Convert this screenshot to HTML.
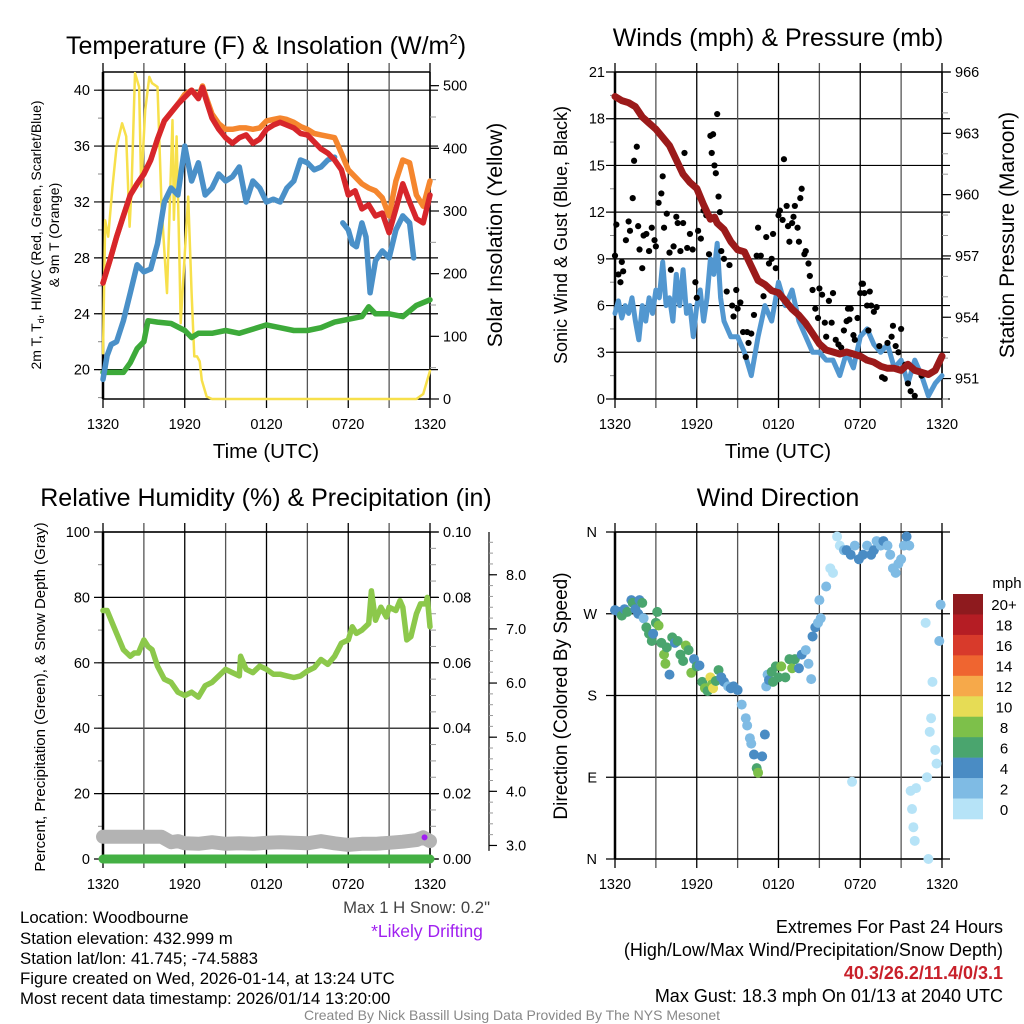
<!DOCTYPE html>
<html><head><meta charset="utf-8">
<style>
html,body{margin:0;padding:0;background:#fff;}
svg{display:block;font-family:"Liberation Sans",sans-serif;}
</style></head>
<body>
<svg id="fig" width="1024" height="1024" viewBox="0 0 1024 1024" xmlns="http://www.w3.org/2000/svg">
<rect width="1024" height="1024" fill="#fff"/>
<g font-size="25" text-anchor="middle" fill="#000">
<text x="266" y="54">Temperature (F) &amp; Insolation (W/m<tspan font-size="15" dy="-10">2</tspan><tspan dy="10">)</tspan></text>
<text x="778" y="46">Winds (mph) &amp; Pressure (mb)</text>
<text x="266" y="506">Relative Humidity (%) &amp; Precipitation (in)</text>
<text x="778" y="506">Wind Direction</text>
</g>
<g font-size="16.8" fill="#000">
<text x="20" y="923">Location: Woodbourne</text>
<text x="20" y="944">Station elevation: 432.999 m</text>
<text x="20" y="964">Station lat/lon: 41.745; -74.5883</text>
<text x="20" y="984">Figure created on Wed, 2026-01-14, at 13:24 UTC</text>
<text x="20" y="1004">Most recent data timestamp: 2026/01/14 13:20:00</text>
<text x="490" y="913" text-anchor="end" fill="#444" font-size="16.7">Max 1 H Snow: 0.2"</text>
<text x="427" y="937" text-anchor="middle" fill="#a020f0" font-size="17.5">*Likely Drifting</text>
<text x="1003" y="933" text-anchor="end" font-size="18">Extremes For Past 24 Hours</text>
<text x="1003" y="956" text-anchor="end" font-size="18">(High/Low/Max Wind/Precipitation/Snow Depth)</text>
<text x="1003" y="979" text-anchor="end" font-size="18" font-weight="bold" fill="#c8202a">40.3/26.2/11.4/0/3.1</text>
<text x="1003" y="1002" text-anchor="end" font-size="18">Max Gust: 18.3 mph On 01/13 at 2040 UTC</text>
<text x="512" y="1020" text-anchor="middle" font-size="14" fill="#888">Created By Nick Bassill Using Data Provided By The NYS Mesonet</text>
</g>
</svg>
<script>
// ---------- DATA ----------
const xTickLabels = ["1320","1920","0120","0720","1320"];
// Temperature panel (hours since 1320 UTC)
const tempTimes = [0,0.5,1,1.5,2,2.5,3,3.5,4,4.5,5,5.5,6,6.5,7,7.3,7.6,8,8.5,9,9.5,10,10.5,11,11.5,12,12.5,13,13.5,14,14.5,15,15.5,16,16.5,17,17.5,18,18.5,19,19.5,20,20.5,21,21.5,22,22.5,23,23.5,24];
const tempRed = [26.2,27.8,29.5,31,32.5,33.3,34,35,36.5,37.8,38.4,39,39.5,40,39.4,40.2,39.2,38,37.2,36.6,36.2,36.6,36.8,36.2,36.5,37.2,37.5,37.7,37.5,37.3,36.9,36.8,36.3,35.8,35.5,35,34.3,32.5,32.8,31.5,31.8,31,31.2,29.8,31.5,33.3,32,30.8,30.5,32.5];
const tempOrange = [26.2,27.8,29.5,31,32.5,33.3,34,35,36.5,37.8,38.4,39,39.7,40,39.5,40.3,39.4,38.3,37.6,37.2,37.2,37.3,37.3,37.2,37.3,37.8,37.9,38,37.9,37.7,37.4,37.2,36.9,36.8,36.7,36.6,35.5,34.3,33.8,33.3,33,32.8,32.3,31,33.5,35,34.8,32.5,31.7,33.5];
const blueTimes = [0,0.3,0.6,1,1.5,2,2.5,3,3.5,4,4.5,5,5.5,6,6.5,7,7.5,8,8.5,9,9.5,10,10.5,11,11.5,12,12.5,13,13.5,14,14.5,15,15.5,16,16.5,17];
const tempBlue = [19.3,21,21.8,22,23.5,25.5,27.5,27,27.2,29,32,33,32.5,36,33.5,34.8,32.5,33,34,33.5,33.8,34.5,32,33.5,33,32,32.2,32,33,33.5,35,34.8,34.3,34.5,35,35.2];
const blueTimes2 = [17.6,18,18.3,18.6,19,19.3,19.6,20,20.5,21,21.5,22,22.5,22.8];
const tempBlue2 = [30.5,30,29,28.8,30.5,29.5,25.5,27.8,28.5,28,30,31,30.5,28];
const greenTimes = [0,0.5,1,1.5,2,2.5,3,3.3,4,5,6,6.5,7,8,9,10,11,12,13,14,15,16,17,18,19,19.5,20,21,22,23,24];
const tempGreen = [19.8,19.8,19.8,19.8,20.5,21.5,22,23.5,23.4,23.3,22.8,22.3,22.6,22.6,22.8,22.6,22.9,23.2,23,22.8,22.8,23,23.4,23.6,23.8,24.5,24,24,23.8,24.6,25];
const solarTimes = [0,0.16,0.38,0.7,1.0,1.4,1.7,1.95,2.1,2.35,2.65,2.8,3.1,3.4,3.6,4.0,4.3,4.7,5.1,5.2,5.4,5.6,5.7,6.0,6.25,6.5,6.7,6.9,7.1,7.25,7.6,8.0,8.5,8.9,22.5,23.0,23.5,24];
const solarValues = [73,285,259,339,403,440,419,275,339,520,498,339,461,514,504,498,307,169,445,286,419,232,121,232,323,169,68,68,60,30,4,0,0,0,0,0,8,45];
// Winds panel
const windTimes = [0,0.25,0.5,0.75,1,1.25,1.5,1.75,2,2.25,2.5,2.75,3,3.25,3.5,3.75,4,4.25,4.5,4.75,5,5.25,5.5,5.75,6,6.25,6.5,6.75,7,7.25,7.5,7.75,8,8.5,9,9.5,10,10.5,11,11.5,12,12.5,13,13.5,14,14.5,15,15.5,16,16.5,17,17.5,18,18.5,19,19.5,20,20.5,21,21.5,22,22.5,23,23.5,24];
const windSpeed = [5.5,6.3,5.2,6,5.5,6.5,5,3.8,6,5,6.5,5.5,7,6.5,8.8,6,6.5,5,8,6,8.3,5.5,6,4,6,7,5,6.5,9,8,10,6.5,5,4,4,3,1.5,4,6,5,7.5,6,7,5,4,3,3,2.5,2.5,1.5,3,2,4,4.5,3.5,3,3.5,2,2.5,1,2.5,1.5,0.2,1,1.5];
const gustTimes = [0,0.1,0.25,0.4,0.5,0.6,0.8,1,1.1,1.3,1.4,1.6,1.7,1.8,2,2.1,2.3,2.5,2.7,2.9,3,3.2,3.4,3.5,3.6,3.8,4,4.1,4.3,4.5,4.6,4.8,5,5.1,5.3,5.5,5.7,5.9,6,6.1,6.3,6.5,6.7,6.9,7,7.1,7.2,7.3,7.4,7.5,7.6,7.7,7.8,8,8.2,8.4,8.6,8.7,8.9,9,9.2,9.4,9.6,9.7,9.8,10,10.2,10.4,10.5,10.7,10.9,11.1,11.3,11.5,11.6,11.8,12,12.1,12.3,12.4,12.6,12.7,12.8,13,13.1,13.2,13.4,13.5,13.6,13.7,13.9,14,14.2,14.3,14.5,14.7,14.9,15,15.2,15.4,15.5,15.7,15.9,16,16.2,16.4,16.6,16.8,17,17.1,17.2,17.3,17.5,17.6,17.8,18,18.1,18.2,18.3,18.5,18.6,18.7,18.8,19,19.2,19.4,19.6,19.8,20,20.3,20.4,20.6,20.8,21,21.3,21.5,21.7,22,22.5];
const gustSpeed = [9.2,11.2,8,7.5,8.8,8.2,10.2,11.4,10.8,12.9,15.3,16.2,11.1,9.6,8.4,10.5,10.6,9.5,11,10.2,9.8,12.6,13.2,14.3,11,11.9,9.4,8.3,9.8,11.7,11.3,9.5,11.3,15.8,9.7,10.6,9.6,7.5,6.5,10.8,10.3,12.1,11.8,9.3,16.9,15.8,17,15,14.5,18.3,13,12,9.5,9,6.9,8.6,6,5.3,7,5.8,6.2,4.3,2.7,4.3,3.6,4.2,5.4,9.2,11,9.2,6.6,10.4,8.7,9,10.6,8.4,11.8,12.1,11.5,15.4,12.4,11.1,10.1,11.3,11.7,12.4,11,10.1,12.9,13.5,9.3,9.5,8.7,7.9,7,5.8,5.2,7.1,6.7,4.9,4,6.3,4.9,6.8,3.8,3.5,3.3,4.4,5,5.8,5.1,5.8,4.1,3.8,5.2,6.8,7.4,7.4,6.8,6,4.4,6.9,6,5.6,5.9,3.4,1.4,1.3,3.6,4,4.7,3.4,3,4.5,2.2,1,0.5,0.2,1.5];
const presTimes = [0,0.5,1,1.5,2,2.5,3,3.5,4,4.5,5,5.5,6,6.5,7,7.3,7.5,8,8.5,9,9.5,10,10.5,11,11.5,12,12.5,13,13.5,14,14.5,15,15.5,16,16.5,17,17.5,18,18.5,19,19.5,20,20.5,21,21.5,22,22.5,23,23.5,24];
const pressure = [964.8,964.6,964.5,964.3,963.8,963.5,963.2,962.8,962.4,961.7,961,960.6,960.3,959.5,958.8,958.9,958.6,958.3,957.7,957.3,957.2,956.5,955.8,955.6,955.3,955.2,954.8,954.4,954.1,953.7,953.2,952.7,952.4,952.3,952.2,952.3,952.2,952.1,951.9,951.8,951.6,951.5,951.5,951.4,951.7,951.4,951.3,951.2,951.4,952.1];
// Humidity panel
const rhTimes = [0,0.3,0.7,1,1.5,2,2.3,2.6,3,3.3,3.6,4,4.5,5,5.5,6,6.5,7,7.5,8,8.5,9,9.5,10,10.1,10.5,11,11.5,12,12.5,13,13.5,14,14.5,15,15.5,16,16.5,17,17.5,18,18.3,18.6,19,19.5,19.7,20,20.4,20.8,21,21.5,21.8,22,22.3,22.6,23,23.3,23.7,23.8,24];
const rhValues = [76,76,72,69,64,62,63,63,67,65,64,59,55,54,51,50,51,49.5,53,54,56,58,57,56,62,58,57,59,58,56.5,56.5,56,55.5,56,57.5,58.5,61,59.5,62,66,67,71,69,70,72,82,73,77,74,77,76,79,77,67,68,75,78,78,80,71];
const snowTimes = [0,1,2,3,4,4.3,5,5.5,6,7,8,9,10,11,12,13,14,15,16,17,18,19,20,21,22,23,23.5,24];
const snowDepth = [3.16,3.16,3.16,3.16,3.16,3.16,3.06,3.08,3.04,3.03,3.06,3.03,3.04,3.03,3.05,3.06,3.05,3.04,3.08,3.04,3.01,3.03,3.03,3.05,3.07,3.1,3.15,3.08];
const precipTimes = [0,24];
const precipValues = [0,0];
// Wind direction panel
const dirTimes = [0,0.3,0.5,0.7,0.9,1.2,1.3,1.5,1.7,1.8,2,2.1,2.3,2.5,2.7,2.8,3,3.1,3.2,3.4,3.6,3.7,3.8,4,4.2,4.4,4.6,4.8,5,5.2,5.4,5.6,5.8,6,6.2,6.4,6.6,6.8,7,7.1,7.2,7.4,7.6,7.8,8,8.3,8.5,8.7,9,9.3,9.6,9.7,9.9,10,10.2,10.4,10.5,10.8,11,11.1,11.2,11.3,11.5,11.6,11.8,12,12.2,12.5,12.8,13,13.2,13.5,13.7,14,14.2,14.4,14.5,14.7,14.9,15,15.1,15.5,15.8,16,16.3,16.5,16.8,17,17.3,17.4,17.6,17.9,18.2,18.5,18.8,19,19.2,19.5,19.7,20,20.2,20.4,20.6,20.8,21,21.2,21.4,21.6,21.7,21.8,21.9,22,22.1,22.8,22.9,23,23.1,23.2,23.3,23.5,23.6,23.8,23.9];
const dirValues = [274,272,268,275,272,285,282,275,270,285,282,265,255,248,240,248,260,272,257,238,225,215,233,203,244,238,240,225,218,235,230,205,220,212,213,195,188,185,200,192,188,196,208,200,195,190,188,190,186,170,155,147,133,127,115,100,95,113,137,190,203,197,206,195,212,200,212,200,220,210,220,210,225,230,215,198,245,255,260,285,265,300,320,315,355,345,340,340,335,85,345,330,335,345,335,340,350,345,350,345,335,320,315,325,330,345,355,345,75,55,35,20,78,260,90,0,140,155,195,120,105,240,280];
const dirSpeed = [4,5,6,4,6,4,6,5,4,4,6,3,6,6,6,5,6,6,8,6,8,8,6,4,6,4,6,6,6,8,6,8,4,6,4,6,8,6,10,8,10,6,6,4,4,3,4,4,4,2,2,2,2,2,4,6,8,4,4,3,3,4,6,6,6,6,8,6,6,8,6,4,4,3,3,2,4,4,2,2,2,2,1,1,0,1,2,4,4,0,3,4,4,3,4,4,2,2,4,2,2,2,2,2,3,3,4,2,0,1,1,1,1,0,1,0,1,1,1,1,1,2,2];
const speedBins = ["0","2","4","6","8","10","12","14","16","18","20+"];
const speedColors = ["#b6e3f7","#7fbbe4","#4a8cc4","#4aa56e","#7dc04a","#e6dc55","#f6a94a","#ef6530","#d83a2b","#b51d24","#8e1a1e"];

// ---------- DRAWING ----------
const NS = "http://www.w3.org/2000/svg";
const svg = document.getElementById("fig");
function mk(tag, attrs, parent){ const e=document.createElementNS(NS,tag); for(const k in attrs) e.setAttribute(k,attrs[k]); (parent||svg).appendChild(e); return e; }
function txt(s, attrs, parent){ const e=mk("text",attrs,parent); e.textContent=s; return e; }

const L=103, R=430, T=72, B=399;
function xs(ox){ return t => ox + L + t/24*(R-L); }
function lin(v0,v1,p0,p1){ return v => p0 + (v-v0)/(v1-v0)*(p1-p0); }

function panel(name, ox, oy, yMin, yMax, yTicks, yLabels, minorStep, labelX){
  const g=mk("g",{});
  
  
  const l=ox+L, r=ox+R, t=oy+T, b=oy+B;
  const y=lin(yMin,yMax,b,t);
  for(let v=Math.ceil(yMin/minorStep)*minorStep; v<=yMax+1e-9; v+=minorStep){
    mk("line",{x1:l-5,x2:l,y1:y(v),y2:y(v),stroke:"#888","stroke-width":1},g);
  }
  yTicks.forEach((v,i)=>{
    const gl=mk("line",{x1:l-9,x2:r+8,y1:y(v),y2:y(v),stroke:"#000","stroke-width":1.2},g);
    
    
    const tl=txt(yLabels[i],{x:labelX!==undefined?labelX:l-13,y:y(v)+5,"font-size":14.5,"text-anchor":"end"},g);
    
    
  });
  for(let k=0;k<=8;k++){
    const x=l+k*(r-l)/8;
    const vl=mk("line",{x1:x,x2:x,y1:t-9,y2:b+9,stroke:k%2?"#555":"#000","stroke-width":1.3},g);
    
    
  }
  xTickLabels.forEach((s,i)=>{
    const tl=txt(s,{x:l+i*(r-l)/4,y:b+30,"font-size":14.5,"text-anchor":"middle"},g);
    
    
  });
  mk("line",{x1:l,x2:r,y1:t,y2:t,stroke:"#000","stroke-width":1.5},g);
  mk("line",{x1:l,x2:l,y1:t,y2:b,stroke:"#000","stroke-width":2.5},g);
  mk("line",{x1:r,x2:r,y1:t,y2:b,stroke:"#000","stroke-width":1.5},g);
  mk("line",{x1:l,x2:r,y1:b,y2:b,stroke:"#000","stroke-width":1.5},g);
  return {g,y};
}
function rightAxis(g, ox, oy, vMin, vMax, ticks, labels, minorStep){
  const y=lin(vMin,vMax,oy+B,oy+T), r=ox+R;
  for(let v=Math.ceil(vMin/minorStep)*minorStep; v<=vMax+1e-9; v+=minorStep){
    mk("line",{x1:r,x2:r+6,y1:y(v),y2:y(v),stroke:"#999","stroke-width":1},g);
  }
  ticks.forEach((v,i)=>{
    mk("line",{x1:r,x2:r+9,y1:y(v),y2:y(v),stroke:"#000","stroke-width":1.2},g);
    const tl=txt(labels[i],{x:r+13,y:y(v)+5,"font-size":14.5},g);
    
    
  });
  return y;
}
function path(g, times, vals, x, y, color, w, name){
  let d="";
  times.forEach((t,i)=>{ d+=(i?"L":"M")+x(t).toFixed(1)+","+y(vals[i]).toFixed(1); });
  const p=mk("path",{d,fill:"none",stroke:color,"stroke-width":w,"stroke-linejoin":"round","stroke-linecap":"round"},g);
  
  
  return p;
}
function vtitle(g,s,x,yc,size,name){
  const e=txt(s,{x:x,y:yc,"font-size":size,"text-anchor":"middle",transform:`rotate(-90 ${x} ${yc})`},g);
  
  
  return e;
}

// ---- Panel 1: Temperature ----
{
  const ox=0, oy=0;
  const P=panel("temperature-chart",ox,oy,17.9,41.3,[20,24,28,32,36,40],["20","24","28","32","36","40"],2);
  const x=xs(ox), y=P.y, g=P.g;
  const ys=rightAxis(g,ox,oy,0,521.8,[0,100,200,300,400,500],["0","100","200","300","400","500"],50);
  path(g,solarTimes,solarValues,x,ys,"#f7e04b",2.5,"solar-insolation-line");
  path(g,greenTimes,tempGreen,x,y,"#3daa3a",5.5,"dewpoint-line");
  path(g,blueTimes,tempBlue,x,y,"#4a90c8",5.5,"windchill-line");
  path(g,blueTimes2,tempBlue2,x,y,"#4a90c8",5.5,"windchill-line-late");
  path(g,tempTimes,tempOrange,x,y,"#f5862e",5.5,"temp-9m-line");
  path(g,tempTimes,tempRed,x,y,"#d7262b",5.5,"temp-2m-line");
  const xt=txt("Time (UTC)",{x:266,y:458,"font-size":20.5,"text-anchor":"middle"},g);
  
  
  const yt=mk("text",{x:41,y:235,"font-size":14,"text-anchor":"middle",transform:"rotate(-90 41 235)"},g);
  yt.textContent="2m T, T";
  const sub=mk("tspan",{"font-size":9,dy:3},yt); sub.textContent="d";
  const rest=mk("tspan",{dy:-3},yt); rest.textContent=", HI/WC (Red, Green, Scarlet/Blue)";
  
  
  vtitle(g,"& 9m T (Orange)",59,235,14,"y-axis-title-line2");
  vtitle(g,"Solar Insolation (Yellow)",502,235,21,"right-axis-title");
}
// ---- Panel 2: Winds ----
{
  const ox=512, oy=0;
  const P=panel("winds-chart",ox,oy,0,21,[0,3,6,9,12,15,18,21],["0","3","6","9","12","15","18","21"],1.5,ox+L-10);
  const x=xs(ox), y=P.y, g=P.g;
  const yp=rightAxis(g,ox,oy,950,966,[951,954,957,960,963,966],["951","954","957","960","963","966"],1);
  path(g,windTimes,windSpeed,x,y,"#5297d0",5,"sonic-wind-line");
  const dg=mk("g",{fill:"#000"},g);
  
  
  gustTimes.forEach((t,i)=>{
    const c=mk("circle",{cx:x(t),cy:y(gustSpeed[i]),r:3.1},dg);
    
    
  });
  path(g,presTimes,pressure,x,yp,"#9b1a1a",7,"pressure-line");
  const xt=txt("Time (UTC)",{x:778,y:458,"font-size":20.5,"text-anchor":"middle"},g);
  
  
  vtitle(g,"Sonic Wind & Gust (Blue, Black)",567,235,18,"y-axis-title");
  vtitle(g,"Station Pressure (Maroon)",1014,235,21,"right-axis-title");
}
// ---- Panel 3: Humidity ----
{
  const ox=0, oy=460;
  const P=panel("humidity-chart",ox,oy,0,100,[0,20,40,60,80,100],["0","20","40","60","80","100"],10);
  const x=xs(ox), y=P.y, g=P.g;
  const yr=rightAxis(g,ox,oy,0,0.10,[0,0.02,0.04,0.06,0.08,0.10],["0.00","0.02","0.04","0.06","0.08","0.10"],0.005);
  const ysn=lin(2.75,8.79,oy+B,oy+T);
  const sx=489;
  const sa=mk("line",{x1:sx,x2:sx,y1:oy+T,y2:ysn(2.9),stroke:"#333","stroke-width":1.5},g);
  
  
  for(let v=3;v<=8.7;v+=0.2){ mk("line",{x1:sx,x2:sx+4,y1:ysn(v),y2:ysn(v),stroke:"#999","stroke-width":1},g); }
  ["3.0","4.0","5.0","6.0","7.0","8.0"].forEach(s=>{
    const v=parseFloat(s);
    mk("line",{x1:sx,x2:sx+8,y1:ysn(v),y2:ysn(v),stroke:"#000","stroke-width":1.2},g);
    const tl=txt(s,{x:sx+17,y:ysn(v)+5,"font-size":14.5},g);
    
    
  });
  path(g,snowTimes,snowDepth,x,ysn,"#b3b3b3",14,"snow-depth-line");
  const pu=mk("circle",{cx:x(23.6),cy:ysn(3.15),r:3,fill:"#a020f0"},g);
  
  
  path(g,precipTimes,precipValues,x,yr,"#44b044",9,"precipitation-line");
  path(g,rhTimes,rhValues,x,y,"#8cc84b",5.5,"humidity-line");
  vtitle(g,"Percent, Precipitation (Green), & Snow Depth (Gray)",45,697,15,"y-axis-title");
}
// ---- Panel 4: Wind direction ----
{
  const ox=512, oy=460;
  const P=panel("wind-direction-chart",ox,oy,0,360,[0,90,180,270,360],["N","E","S","W","N"],360,ox+L-18);
  const x=xs(ox), y=P.y, g=P.g;
  const dg=mk("g",{},g);
  
  
  dirTimes.forEach((t,i)=>{
    const bin=Math.min(10,Math.floor(dirSpeed[i]/2));
    const c=mk("circle",{cx:x(t),cy:y(dirValues[i]),r:5,fill:speedColors[bin]},dg);
    
    
  });
  vtitle(g,"Direction (Colored By Speed)",567,696,19,"y-axis-title");
  const cb=mk("g",{},svg);
  
  
  const top=594, h=225/11;
  speedBins.forEach((s,i)=>{
    const k=10-i;
    mk("rect",{x:953,y:top+i*h,width:30,height:h+0.3,fill:speedColors[k]},cb);
    const lab=txt(speedBins[k],{x:1004,y:top+i*h+h/2+6,"font-size":15,"text-anchor":"middle"},cb);
    
    
  });
  const u=txt("mph",{x:1007,y:588,"font-size":15,"text-anchor":"middle"},cb);
  
  
}
</script>
</body></html>
